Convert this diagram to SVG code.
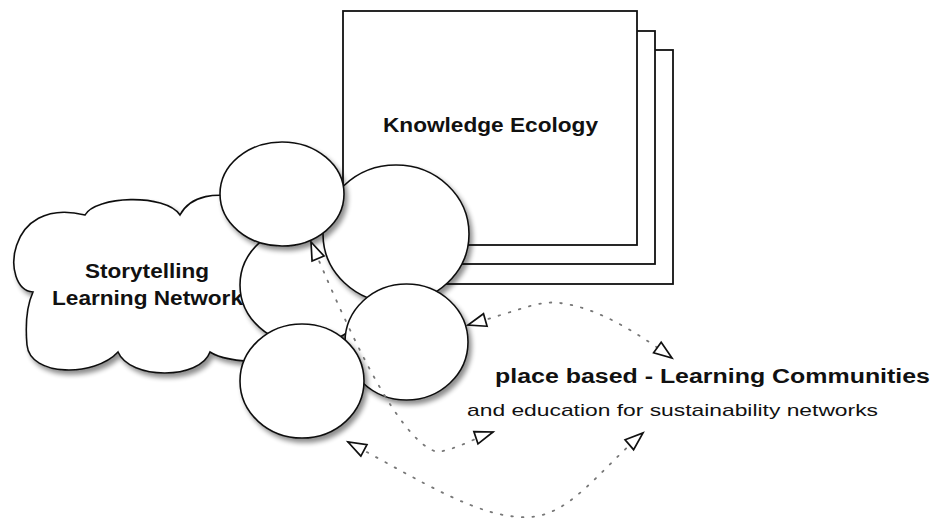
<svg xmlns="http://www.w3.org/2000/svg" width="936" height="520" viewBox="0 0 936 520">
  <defs>
    <filter id="shadow" x="-20%" y="-20%" width="150%" height="150%">
      <feGaussianBlur in="SourceAlpha" stdDeviation="2.5"/>
      <feOffset dx="3" dy="4" result="off"/>
      <feComponentTransfer><feFuncA type="linear" slope="0.45"/></feComponentTransfer>
      <feMerge><feMergeNode/><feMergeNode in="SourceGraphic"/></feMerge>
    </filter>
    <marker id="openTri" markerUnits="userSpaceOnUse" markerWidth="24" markerHeight="20" refX="18" refY="10" orient="auto-start-reverse" viewBox="-2 0 24 20">
      <path d="M0,3.5 L18,10 L0,16.5 Z" fill="#fff" stroke="#111" stroke-width="1.7" stroke-linejoin="miter"/>
    </marker>
  </defs>
  <style>
    .page { fill: #fff; stroke: #111; stroke-width: 1.8; }
    .bubble { fill: #fff; stroke: #111; stroke-width: 1.6; filter: url(#shadow); }
    .link { fill: none; stroke: #777; stroke-width: 1.8; stroke-dasharray: 1.6 9; stroke-linecap: round; marker-start: url(#openTri); marker-end: url(#openTri); }
    .bold { font-family: "Liberation Sans", Arial, Helvetica, sans-serif; font-weight: bold; fill: #111; }
    .plain { font-family: "Liberation Sans", Arial, Helvetica, sans-serif; fill: #111; }
  </style>
  <rect width="936" height="520" fill="#fff"/>

  <!-- stacked pages -->
  <g id="knowledge-ecology">
    <rect class="page" x="379" y="50" width="294" height="234"/>
    <rect class="page" x="361" y="31" width="294" height="233"/>
    <rect class="page" x="343" y="11" width="294" height="234"/>
    <text class="bold" x="383" y="132" font-size="20" textLength="215" lengthAdjust="spacingAndGlyphs">Knowledge Ecology</text>
  </g>

  <!-- cloud -->
  <g id="storytelling">
    <path class="bubble" d="M85,215 C95,196 165,193 180,215 C190,196 215,190 250,200 L280,205 L280,340 L270,362 C245,362 222,360 210,352 C200,380 130,380 118,352 C95,377 30,377 27,345 C25,322 28,303 33,292 C0,290 5,195 85,215 Z"/>
    <text class="bold" x="85" y="278" font-size="20" textLength="124" lengthAdjust="spacingAndGlyphs">Storytelling</text>
    <text class="bold" x="52" y="305" font-size="20" textLength="191" lengthAdjust="spacingAndGlyphs">Learning Network</text>
  </g>

  <!-- circles cluster -->
  <g id="circle-c"><ellipse class="bubble" cx="306.6" cy="285" rx="66.6" ry="60"/></g>
  <g id="circle-b"><ellipse class="bubble" cx="396" cy="234" rx="73" ry="69"/></g>
  <g id="circle-a"><ellipse class="bubble" cx="282" cy="194" rx="62" ry="52"/></g>
  <g id="circle-d"><ellipse class="bubble" cx="406.5" cy="342" rx="61.5" ry="58"/></g>
  <g id="circle-e"><ellipse class="bubble" cx="302" cy="381" rx="62" ry="57"/></g>

  <!-- labels -->
  <g id="learning-communities">
    <text class="bold" x="495" y="383" font-size="19.5" textLength="435" lengthAdjust="spacingAndGlyphs">place based - Learning Communities</text>
    <text class="plain" x="467" y="416" font-size="17" textLength="411" lengthAdjust="spacingAndGlyphs">and education for sustainability networks</text>
  </g>

  <!-- dotted two-way connectors -->
  <g id="connectors">
    <path class="link" d="M311,242 C340,310 395,440 437,452 C455,450 475,438 493,432"/>
    <path class="link" d="M468,325 C520,310 540,300 560,303 C600,308 640,335 672,358"/>
    <path class="link" d="M348,442 C420,480 480,520 530,517 C570,515 600,470 643,433"/>
  </g>
</svg>
